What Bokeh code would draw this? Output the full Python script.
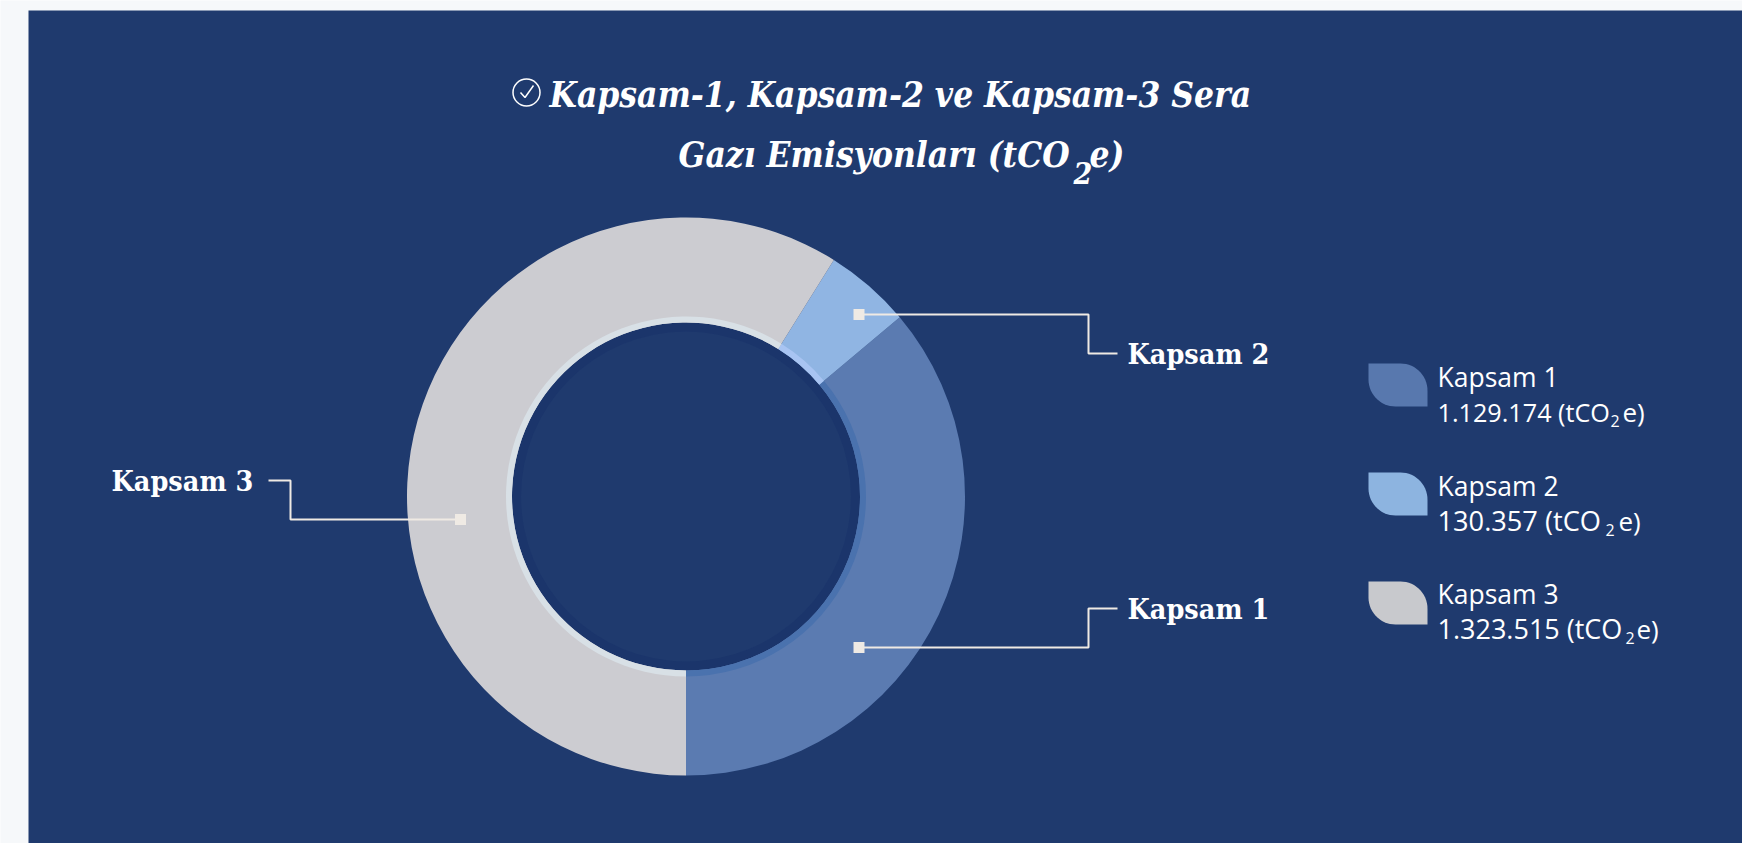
import numpy as np
from bokeh.plotting import figure
from bokeh.embed import file_html
from bokeh.resources import INLINE
from bokeh.core.properties import value

# ---------- data ----------
categories = ["Kapsam 1", "Kapsam 2", "Kapsam 3"]
emission_labels = ["1.129.174 (tCO", "130.357 (tCO", "1.323.515 (tCO"]
# Slice sweep in degrees (running counter-clockwise from the bottom)
slice_degrees = [130, 18, 212]
slice_colors = ["#5B7BB1", "#90B5E3", "#CCCCD1"]
halo_colors = ["#4A72AE", "#A8C4F2", "#D8E0E6"]
legend_colors = ["#5878AE", "#8DB4E0", "#C8C9CD"]
title_lines = ["Kapsam-1, Kapsam-2 ve Kapsam-3 Sera", "Gazı Emisyonları (tCO", "e)"]

PAGE = "#F6F8FA"
NAVY = "#1F3A6E"
LINE = "#EFEAE4"
W, H = 1742, 843

p = figure(width=W, height=H, x_range=(0, W), y_range=(H, 0),
           output_backend="svg", toolbar_location=None, min_border=0)
p.axis.visible = False
p.grid.visible = False
p.outline_line_color = None
p.background_fill_color = PAGE
p.border_fill_color = PAGE

# panel
p.quad(left=[28], right=[W], top=[10], bottom=[H], fill_color=NAVY, line_color=None)

# donut
cx, cy, r_out, r_in = 685.5, 496, 279, 174
start = 180.0


def clock_to_math(a):
    return np.deg2rad(90 - a)


p.annular_wedge(x=[cx], y=[cy], inner_radius=r_in - 9, outer_radius=r_in, start_angle=0, end_angle=2 * np.pi,
                fill_color="#17316A", line_color=None, fill_alpha=0.55)
for deg, col, halo in zip(slice_degrees, slice_colors, halo_colors):
    a0, a1 = clock_to_math(start), clock_to_math(start - deg)
    p.annular_wedge(x=[cx], y=[cy], inner_radius=r_in, outer_radius=r_out,
                    start_angle=a0, end_angle=a1, direction="anticlock",
                    fill_color=col, line_color=None)
    p.annular_wedge(x=[cx], y=[cy], inner_radius=r_in, outer_radius=r_in + 6,
                    start_angle=a0, end_angle=a1, direction="anticlock",
                    fill_color=halo, line_color=None)
    start -= deg

# leaders
leaders = [
    ([858.5, 1088, 1088, 1117], [647, 647, 608, 608]),
    ([858.5, 1088, 1088, 1117], [314, 314, 353, 353]),
    ([460, 290, 290, 268], [519, 519, 480, 480]),
]
for xs, ys in leaders:
    p.line(xs, ys, line_color=LINE, line_width=2)
    p.rect(x=[xs[0]], y=[ys[0]], width=11, height=11, fill_color=LINE, line_color=None)

TEXT_DY = 11  # the alphabetic baseline lands this far below the requested y


def label(x, y, s, font, size, style="normal"):
    p.text(x=[x], y=[y - TEXT_DY], text=[s], text_font=font, text_font_style=style,
           text_font_size=size, text_color="white", text_baseline="alphabetic")


# callout labels
SERIF = value("DejaVu Serif Condensed")
lab_x = [1127, 1127, 111]
lab_y = [619, 364, 491]
for c, x, y in zip(categories, lab_x, lab_y):
    label(x, y, c, SERIF, "28.5px", "bold")

# title
label(549, 105, title_lines[0], SERIF, "35px", "bold italic")
label(678, 165, title_lines[1], SERIF, "35px", "bold italic")
label(1073, 183, "2", SERIF, "30px", "bold italic")
label(1089, 165, title_lines[2], SERIF, "35px", "bold italic")

# check icon
p.circle(x=[526], y=[92], radius=13.5, fill_color=None, line_color="white", line_width=1.5)
p.line([520, 524.5, 533], [92, 97, 85], line_color="white", line_width=1.5)

# legend
SANS = value("Open Sans")
sw_left = 1368
sw_w, sw_h, sw_r = 59, 43, 27
sw_tops = [363, 472, 581]
line1 = [387, 496, 604]
line2 = [422, 531, 639]
sub_x = [1610, 1605, 1625]
tail_x = [1622, 1618, 1636]
emission_sizes = ["25.2px", "27.2px", "27px"]


def leaf(x0, y0):
    t = np.linspace(0, np.pi / 2, 16)
    xs = [x0]
    ys = [y0]
    xs += list(x0 + sw_w - sw_r + sw_r * np.sin(t))
    ys += list(y0 + sw_r - sw_r * np.cos(t))
    xs += [x0 + sw_w]
    ys += [y0 + sw_h]
    xs += list(x0 + sw_r - sw_r * np.sin(t))
    ys += list(y0 + sw_h - sw_r + sw_r * np.cos(t))
    return xs, ys


for i, c in enumerate(categories):
    xs, ys = leaf(sw_left, sw_tops[i])
    p.patch(xs, ys, fill_color=legend_colors[i], line_color=None)
    label(1437, line1[i], c, SANS, "26.5px")
    label(1437, line2[i], emission_labels[i], SANS, emission_sizes[i])
    label(sub_x[i], line2[i] + 9, "2", SANS, "16px")
    label(tail_x[i], line2[i], "e)", SANS, "26px")

html = file_html(p, INLINE)
css = "<style>html,body{margin:0;overflow:hidden}</style>"
html = html.replace("</head>", css + "</head>", 1)
open("out.html", "w").write(html)
